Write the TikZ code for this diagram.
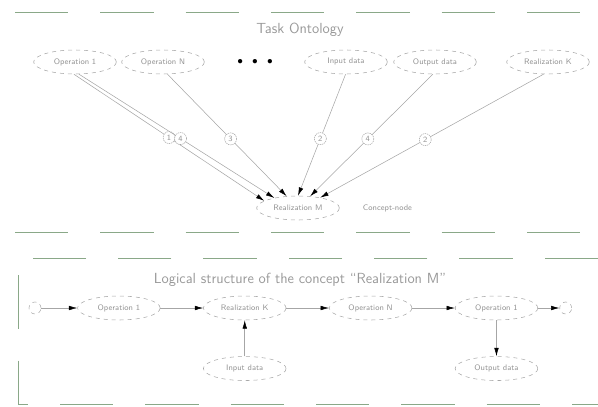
\documentclass[tikz,border=0pt]{standalone}
\usepackage{tikz}
\usetikzlibrary{arrows.meta, positioning, shapes.geometric}

\definecolor{sepgreen}{RGB}{138,168,136}

\begin{document}
\begin{tikzpicture}[%
  x=0.75pt, y=-0.75pt,
  every node/.style={align=center, font=\fontsize{6}{7}\sffamily, text=gray!85},
  concept/.style={draw=gray!70, dashed, ellipse, minimum width=62pt, minimum height=18pt, inner sep=0pt},
  term/.style={draw=gray!70, dashed, circle, minimum size=9pt, inner sep=0pt},
  num/.style={draw=gray!70, dash pattern=on 1pt off 0.6pt, circle, minimum size=9pt, inner sep=0pt, fill=white},
  title/.style={font=\fontsize{11}{13}\sffamily, text=gray!80},
  arr/.style={-{Latex[length=2.2mm, width=1.2mm, color=black]}, draw=gray!70, thin},
  sep/.style={draw=sepgreen, line width=0.6pt, dash pattern=on 40pt off 24pt}
]
\useasboundingbox (0,0) rectangle (598,406);

% 1. Task ontology
\draw[sep] (15,12) -- (598,12);
\node[title] (tt) at (300,30) {Task Ontology};
\node[concept] (op1) at (75,62) {Operation 1};
\node[concept] (opn) at (163,62) {Operation N};
\node[font=\large, text=black] (dots) at (255,62) {\textbullet\,\textbullet\,\textbullet};
\node[concept] (ind) at (346,62) {Input data};
\node[concept] (outd) at (435,62) {Output data};
\node[concept] (rk) at (548,62) {Realization K};

\node[concept] (rm) at (298,208) {Realization M};
\node[right=14pt of rm] (cn) {Concept-node};

\draw[arr] (op1.-95) -- node[num, pos=0.5] {1} (rm.168);
\draw[arr] (op1.-72) -- node[num, pos=0.52] {4} (rm.157);
\draw[arr] (opn.-70) -- node[num, pos=0.53] {3} (rm.134);
\draw[arr] (ind.-92) -- node[num, pos=0.53] {2} (rm.90);
\draw[arr] (outd.-100) -- node[num, pos=0.53] {4} (rm.44);
\draw[arr] (rk.-110) -- node[num, pos=0.53] {2} (rm.25);

% 2. Logical structure
\draw[sep] (15,232) -- (598,232);
\draw[sep] (598,258) -- (18,258) -- (18,404) -- (598,404);
\node[title] (lt) at (300,280) {Logical structure of the concept ``Realization M''};

\node[term] (c0) at (35,308) {};
\node[concept, right=27pt of c0] (o1a) {Operation 1};
\node[concept, right=32pt of o1a] (rk2) {Realization K};
\node[concept, right=32pt of rk2] (on2) {Operation N};
\node[concept, right=32pt of on2] (o1b) {Operation 1};
\node[term, right=16pt of o1b] (c1) {};
\draw[arr] (c0) -- (o1a);
\draw[arr] (o1a) -- (rk2);
\draw[arr] (rk2) -- (on2);
\draw[arr] (on2) -- (o1b);
\draw[arr] (o1b) -- (c1);

\node[concept, below=27pt of rk2] (in2) {Input data};
\node[concept, below=27pt of o1b] (out2) {Output data};
\draw[arr] (in2) -- (rk2);
\draw[arr] (o1b) -- (out2);

\end{tikzpicture}
\end{document}
